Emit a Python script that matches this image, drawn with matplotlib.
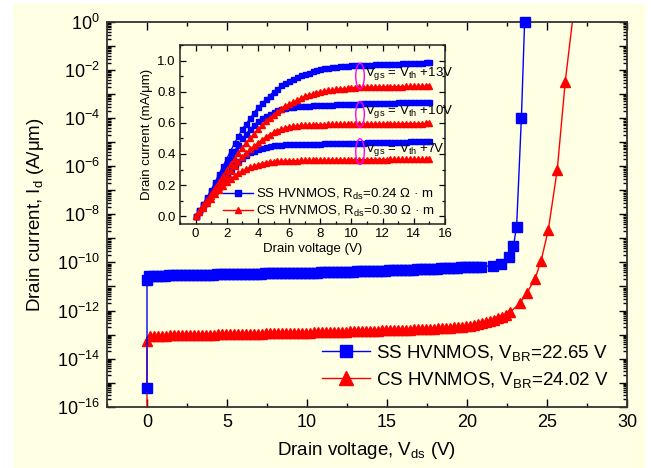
import numpy as np
import matplotlib
matplotlib.use('Agg')
import matplotlib.pyplot as plt
from matplotlib.patches import Ellipse, Rectangle
from matplotlib.ticker import LogLocator, FuncFormatter, MultipleLocator, NullFormatter, FormatStrFormatter
from matplotlib.lines import Line2D

plt.rcParams.update({
    'font.family': ['Liberation Sans', 'DejaVu Sans'],
    'mathtext.fontset': 'custom',
    'mathtext.rm': 'Liberation Sans',
    'mathtext.it': 'Liberation Sans:italic',
    'mathtext.bf': 'Liberation Sans:bold',
    'axes.unicode_minus': False,
})

# ---------------- main plot data (log10 of drain current, A/um) ----------------
ss_head_v = [0.0, 0.0]
ss_head_log = [-15.22, -10.72]
ss_dense_start, ss_dense_step = 0.1, 0.25
ss_dense_log = [
    -10.56, -10.56, -10.55, -10.55, -10.55, -10.54, -10.54, -10.54, -10.53, -10.53,
    -10.53, -10.52, -10.52, -10.52, -10.51, -10.51, -10.51, -10.50, -10.50, -10.50,
    -10.49, -10.49, -10.49, -10.48, -10.48, -10.48, -10.47, -10.47, -10.47, -10.46,
    -10.46, -10.46, -10.45, -10.45, -10.45, -10.44, -10.44, -10.44, -10.43, -10.43,
    -10.43, -10.42, -10.42, -10.41, -10.41, -10.41, -10.40, -10.40, -10.39, -10.39,
    -10.38, -10.38, -10.37, -10.37, -10.36, -10.36, -10.35, -10.35, -10.34, -10.34,
    -10.33, -10.33, -10.32, -10.32, -10.31, -10.30, -10.30, -10.29, -10.28, -10.28,
    -10.27, -10.26, -10.26, -10.25, -10.24, -10.23, -10.22, -10.22, -10.21, -10.20,
    -10.20, -10.19, -10.18, -10.18]
ss_tail_v = [21.6, 22.1, 22.6, 22.9, 23.1, 23.4, 23.6]
ss_tail_log = [-10.14, -10.06, -9.77, -9.31, -8.52, -3.99, 0.0]

cs_head_v = [0.0, 0.0]
cs_head_log = [-17.0, -13.25]
cs_dense_start, cs_dense_step = 0.2, 0.25
cs_dense_log = [
    -13.05, -13.05, -13.04, -13.04, -13.04, -13.03, -13.03, -13.03, -13.02, -13.02,
    -13.02, -13.01, -13.01, -13.01, -13.00, -13.00, -13.00, -12.99, -12.99, -12.99,
    -12.98, -12.98, -12.98, -12.97, -12.97, -12.97, -12.96, -12.96, -12.96, -12.95,
    -12.95, -12.95, -12.94, -12.94, -12.94, -12.93, -12.93, -12.93, -12.92, -12.92,
    -12.92, -12.91, -12.91, -12.90, -12.90, -12.90, -12.89, -12.89, -12.88, -12.88,
    -12.87, -12.87, -12.86, -12.86, -12.85, -12.85, -12.84, -12.84, -12.83, -12.83,
    -12.82, -12.82, -12.81, -12.80, -12.80, -12.79, -12.78, -12.78, -12.77, -12.76,
    -12.75, -12.75, -12.74, -12.73, -12.72, -12.71, -12.70, -12.69, -12.68, -12.66,
    -12.64, -12.61, -12.57, -12.53, -12.49, -12.45, -12.40, -12.33, -12.26, -12.17,
    -12.07]
cs_tail_v = [23.31, 23.73, 24.25, 24.63, 25.08, 25.64, 26.14, 26.8]
cs_tail_log = [-11.69, -11.28, -10.69, -9.93, -8.65, -6.15, -2.48, 1.2]

ss_label = 'SS HVNMOS, V$_{\\rm BR}$=22.65 V'
cs_label = 'CS HVNMOS, V$_{\\rm BR}$=24.02 V'

# ---------------- inset data (mA/um), Vds step 0.25 V from 0 ----------------
inset_step = 0.25
ss13 = [0, .04, .08, .125, .17, .22, .27, .32, .37, .42, .47, .515, .56, .595, .63, .665,
        .70, .725, .75, .775, .80, .82, .84, .855, .87, .883, .895, .905, .915, .923, .93,
        .938, .945, .95, .955, .958, .961, .963, .965, .967, .969, .970, .971, .972, .973,
        .974, .975, .976, .977, .978, .979, .980, .981, .982, .983, .984, .985, .986, .987,
        .988, .989]
ss10 = [0, .04, .08, .12, .16, .205, .25, .295, .34, .38, .42, .46, .50, .53, .56, .585,
        .61, .628, .645, .658, .67, .68, .69, .695, .70, .703, .706, .708, .71, .711, .712,
        .713, .714, .715, .716, .717, .718, .719, .72, .721, .722, .723, .724, .725, .726,
        .727, .728, .728, .729, .729, .730, .730, .731, .731, .732, .732, .733, .733, .734,
        .734, .735]
ss7 = [0, .035, .07, .105, .14, .175, .21, .245, .28, .305, .33, .355, .375, .393, .41,
       .42, .43, .438, .445, .45, .455, .457, .459, .461, .462, .463, .464, .465, .465,
       .466, .466, .467, .467, .468, .468, .469, .469, .470, .470, .471, .471, .472, .472,
       .473, .474, .474, .475, .476, .476, .477, .478, .478, .479, .480, .480, .481, .482,
       .482, .483, .484, .485]
cs13 = [0, .035, .07, .105, .14, .18, .22, .26, .30, .335, .37, .405, .44, .47, .50, .53,
        .56, .585, .61, .63, .65, .67, .69, .705, .72, .733, .745, .758, .77, .778, .785,
        .793, .80, .804, .808, .811, .815, .818, .82, .822, .825, .826, .827, .828, .829,
        .830, .830, .831, .831, .832, .832, .833, .833, .833, .834, .834, .834, .835, .835,
        .835, .835]
cs10 = [0, .03, .06, .095, .13, .16, .19, .225, .26, .29, .32, .35, .38, .405, .43, .45,
        .47, .49, .51, .525, .54, .55, .56, .568, .575, .578, .581, .583, .585, .586, .587,
        .588, .589, .589, .590, .590, .590, .591, .591, .591, .592, .592, .592, .592, .593,
        .593, .593, .593, .594, .594, .594, .594, .594, .595, .595, .595, .595, .595, .595,
        .596, .596]
cs7 = [0, .028, .055, .083, .11, .14, .17, .195, .22, .24, .26, .275, .29, .303, .315,
       .323, .33, .338, .345, .348, .35, .352, .354, .355, .356, .357, .357, .358, .358,
       .359, .359, .360, .360, .360, .361, .361, .361, .362, .362, .362, .362, .363, .363,
       .363, .363, .364, .364, .364, .364, .364, .365, .365, .365, .365, .365, .366, .366,
       .366, .366, .366, .366]
inset_ss_label = 'SS HVNMOS, R$_{\\rm ds}$=0.24 Ω · m'
inset_cs_label = 'CS HVNMOS, R$_{\\rm ds}$=0.30 Ω · m'
vgs_labels = ['V$_{\\rm gs}$ = V$_{\\rm th}$ +13V', 'V$_{\\rm gs}$ = V$_{\\rm th}$ +10V',
              'V$_{\\rm gs}$ = V$_{\\rm th}$ +7V']
vgs_label_y = [0.919, 0.671, 0.426]
loop_y = [0.90, 0.655, 0.415]

BG = '#FFFFE4'
BLUE = '#0000FF'
RED = '#FF0000'

W, H = 651, 468
fig = plt.figure(figsize=(W / 100, H / 100), dpi=100, facecolor='white')
fig.add_artist(Rectangle((13 / W, 0), (646 - 13) / W, (H - 4) / H, transform=fig.transFigure,
                         facecolor=BG, edgecolor='none', zorder=-10))

ax = fig.add_axes([107 / W, 1 - 406.7 / H, 520 / W, 384.7 / H])
ax.set_facecolor(BG)
ax.set_yscale('log')

cs_v = np.concatenate([cs_head_v, cs_dense_start + cs_dense_step * np.arange(len(cs_dense_log)), cs_tail_v])
cs_i = 10.0 ** np.concatenate([cs_head_log, cs_dense_log, cs_tail_log])
ss_v = np.concatenate([ss_head_v, ss_dense_start + ss_dense_step * np.arange(len(ss_dense_log)), ss_tail_v])
ss_i = 10.0 ** np.concatenate([ss_head_log, ss_dense_log, ss_tail_log])

ax.plot(cs_v, cs_i, color=RED, lw=1.0, marker='^', ms=7.5, mec=RED, mfc=RED)
ax.plot(ss_v, ss_i, color=BLUE, lw=1.0, marker='s', ms=6.5, mec=BLUE, mfc=BLUE, clip_on=False, zorder=3)

ax.set_xlim(-2.5, 30)
ax.set_ylim(1e-16, 1)
ax.xaxis.set_major_locator(MultipleLocator(5))
ax.xaxis.set_minor_locator(MultipleLocator(2.5))
ax.yaxis.set_major_locator(LogLocator(base=10, numticks=40))
ax.yaxis.set_minor_locator(LogLocator(base=10, subs=np.arange(2, 10), numticks=400))
ax.yaxis.set_minor_formatter(NullFormatter())


def ylab(v, pos):
    e = int(round(np.log10(v)))
    return f'$10^{{{e}}}$' if e % 2 == 0 else ''


ax.yaxis.set_major_formatter(FuncFormatter(ylab))
ax.tick_params(which='both', direction='in', top=True, right=True, width=1, colors='black')
ax.tick_params(which='major', length=6, labelsize=13, pad=5)
ax.tick_params(which='minor', length=3)
for s in ax.spines.values():
    s.set_linewidth(1.3)
    s.set_color('#333333')
ax.set_xlabel('Drain voltage, V$_{\\rm ds}$ (V)', fontsize=13.5, labelpad=7)
ax.set_ylabel('Drain current, I$_{\\rm d}$ (A/μm)', fontsize=13.5, labelpad=8)

h_ss = Line2D([], [], color=BLUE, lw=1.0, marker='s', ms=9, mec=BLUE, mfc=BLUE)
h_cs = Line2D([], [], color=RED, lw=1.0, marker='^', ms=10, mec=RED, mfc=RED)
ax.legend([h_ss, h_cs], [ss_label, cs_label], loc='center left', bbox_to_anchor=(0.4135, 0.1045),
          frameon=False, fontsize=13.5, handlelength=2.55, handletextpad=0.35,
          borderpad=0, borderaxespad=0, labelspacing=0.38, numpoints=1)

# ---------------- inset ----------------
ax2 = fig.add_axes([180 / W, 1 - 224 / H, 265 / W, 179 / H])
ax2.set_facecolor(BG)
curves = [(ss13, BLUE, 's'), (ss10, BLUE, 's'), (ss7, BLUE, 's'),
          (cs13, RED, '^'), (cs10, RED, '^'), (cs7, RED, '^')]
for vals, col, mk in curves:
    vx = inset_step * np.arange(len(vals))
    ax2.plot(vx, vals, color=col, lw=0.9, marker=mk, ms=3.6 if mk == 's' else 4.2,
             mec=col, mfc=col)
ax2.set_xlim(-1, 16)
ax2.set_ylim(-0.05, 1.1)
ax2.xaxis.set_major_locator(MultipleLocator(2))
ax2.xaxis.set_minor_locator(MultipleLocator(1))
ax2.yaxis.set_major_locator(MultipleLocator(0.2))
ax2.yaxis.set_minor_locator(MultipleLocator(0.1))
ax2.yaxis.set_major_formatter(FormatStrFormatter('%.1f'))
ax2.tick_params(which='both', direction='in', top=True, right=True, width=0.9, colors='black')
ax2.tick_params(which='major', length=4, labelsize=9.5, pad=3)
ax2.tick_params(which='minor', length=2)
for s in ax2.spines.values():
    s.set_linewidth(1.1)
    s.set_color('#222222')
ax2.set_xlabel('Drain voltage (V)', fontsize=9.5, labelpad=2)
ax2.set_ylabel('Drain current (mA/μm)', fontsize=9.5, labelpad=3)

for lab, ty, ly in zip(vgs_labels, vgs_label_y, loop_y):
    ax2.add_patch(Ellipse((10.55, ly), width=0.55, height=0.165, edgecolor='#FF00FF',
                          facecolor='none', lw=1.0, zorder=4))
    ax2.text(10.86, ty, lab, fontsize=9.5, va='center', ha='left', zorder=5)

ih_ss = Line2D([], [], color=BLUE, lw=1.0, marker='s', ms=3.8, mec=BLUE, mfc=BLUE)
ih_cs = Line2D([], [], color=RED, lw=1.0, marker='^', ms=4.8, mec=RED, mfc=RED)
ax2.legend([ih_ss, ih_cs], [inset_ss_label, inset_cs_label], loc='center left',
           bbox_to_anchor=(0.162, 0.12), frameon=False, fontsize=9.5, handlelength=2.25,
           handletextpad=0.25, borderpad=0, borderaxespad=0, labelspacing=0.15, numpoints=1)

fig.savefig('out.png', dpi=100, facecolor=fig.get_facecolor())
